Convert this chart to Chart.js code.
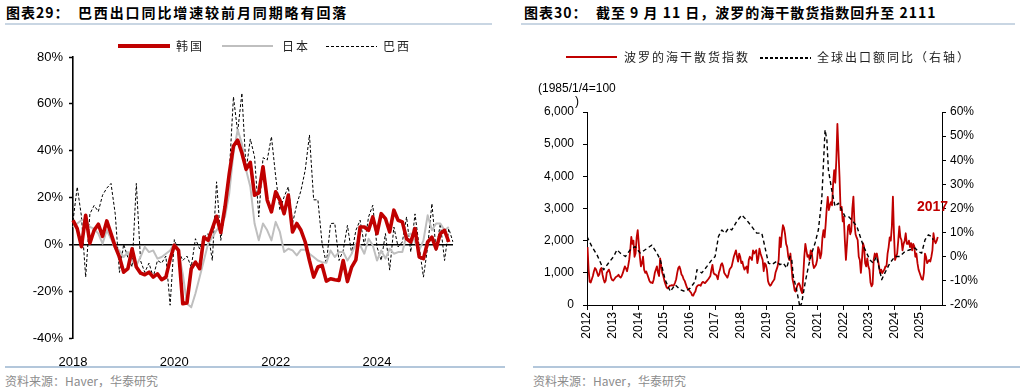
<!DOCTYPE html>
<html><head><meta charset="utf-8">
<script src="https://cdn.jsdelivr.net/npm/chart.js@4.4.1/dist/chart.umd.min.js"></script>
<style>
html,body{margin:0;padding:0;background:#fff}
body{width:1022px;height:392px;position:relative;overflow:hidden;font-family:"Liberation Sans",Arial,sans-serif}
.a{position:absolute;white-space:nowrap}
.title{font-family:"Noto Sans CJK SC","Liberation Sans",sans-serif;font-weight:700;font-size:14px;letter-spacing:1px;color:#000;top:2px;line-height:20px}
.rule{height:2px;background:#c9d6e3}
.frule{height:2px;background:#b3c7db}
.src{font-family:"Noto Sans CJK SC",sans-serif;font-size:12px;color:#8c8c8c;top:373px;line-height:16px}
.lg{font-family:"Noto Sans CJK SC",sans-serif;font-size:12px;color:#222;letter-spacing:2px;line-height:16px}
.dash{height:1px;background:repeating-linear-gradient(to right,#000 0 3px,transparent 3px 5px)}
canvas{position:absolute;top:0}
</style>
</head><body>
<div class="a title" style="left:6px">图表29：&nbsp;&nbsp;<span style="letter-spacing:1.9px">巴西出口同比增速较前月同期略有回落</span></div>
<div class="a rule" style="left:5px;top:23px;width:487px"></div>
<div class="a title" style="left:524px">图表30：&nbsp;&nbsp;截至 9 月 11 日，波罗的海干散货指数回升至 2111</div>
<div class="a rule" style="left:521px;top:23px;width:494px"></div>

<canvas id="c1" width="511" height="370" style="left:0"></canvas>
<canvas id="c2" width="511" height="370" style="left:511px"></canvas>

<!-- left legend -->
<div class="a" style="left:118px;top:44px;width:52px;height:4px;background:#c00000"></div>
<div class="a lg" style="left:176px;top:38px">韩国</div>
<div class="a" style="left:222px;top:45px;width:51px;height:2px;background:#bfbfbf"></div>
<div class="a lg" style="left:282px;top:38px">日本</div>
<div class="a dash" style="left:326px;top:46px;width:51px"></div>
<div class="a lg" style="left:383px;top:38px">巴西</div>

<!-- right legend -->
<div class="a" style="left:566px;top:56px;width:51px;height:2px;background:#c00000"></div>
<div class="a lg" style="left:624px;top:49px">波罗的海干散货指数</div>
<div class="a dash" style="left:760px;top:57px;width:51px;height:1.5px"></div>
<div class="a lg" style="left:817px;top:49px">全球出口额同比（右轴）</div>

<div class="a" style="left:538px;top:81px;font-size:12px;color:#000">(1985/1/4=100</div>
<div class="a" style="left:575px;top:94px;font-size:12px;color:#000">)</div>
<div class="a" style="left:917px;top:198px;font-size:14px;font-weight:700;color:#c00000">2017</div>

<div class="a frule" style="left:5px;top:366px;width:500px"></div>
<div class="a frule" style="left:533px;top:366px;width:487px"></div>
<div class="a src" style="left:5px">资料来源：Haver，华泰研究</div>
<div class="a src" style="left:533px">资料来源：Haver，华泰研究</div>

<script>
// ---------- Left chart data (monthly, 2018-01 .. 2025-07), % YoY ----------
const leftStartYear = 2018;
const leftMonthCount = 91;
const leftYearTicks = ['2018', '2020', '2022', '2024'];
const korea = [10.3, 6.7, -1, 12.4, 0.5, 6, 8.6, 3.4, 10, 4.6,
  -1, -5.4, -11.9, -10.4, -1.9, -9.7, -12.3, -13, -11.9, -14,
  -12.6, -15.1, -14, -6.4, -0.4, -2.6, -25.4, -25, -10.4, -7.6,
  -10.4, 3.1, 1.7, 6.7, 12, 5, 16, 30, 42, 44.5,
  39, 32, 35, 21, 22, 33.1, 18.9, 13.9, 22.4, 18.9,
  13.1, 21, 5.3, 8.9, 6, 1, -6.9, -14, -9.7, -9,
  -15.7, -14.7, -15.1, -15.4, -6.9, -15.9, -9.7, -6.6, 7.4, 7.4,
  6, 11.7, 4.6, 13.1, 11, 5.3, 14.6, 10.3, 9.6, 2.4,
  1, 6.7, -5.4, -6.1, 1, 3.1, -1.9, 4.6, 6, 1];
const japan = [7.4, 8.9, 10.3, 10.6, 7.4, 6.7, 4.6, 0.3, 6, 2.4,
  -1.9, -2.6, -5.4, -3.3, -6.9, -9, -5.4, -1.1, -3.3, -2.6,
  -6.1, -5.4, -4, -2.6, 0.3, -3.3, -12.6, -25.4, -26.9, -21,
  -14, -6.9, 0.3, 3, 6, 8, 11.7, 21.7, 38.9, 48.9,
  43, 31.7, 24.6, 8.9, 1.7, 8.9, 6, 1.7, 9.6, 5.3,
  -3.3, -1.9, -2.6, -4.7, -2.3, -2.3, -4, -5.4, -6.9, -7.6,
  -7.9, -2.6, -5.4, -3.3, -3.3, -6.9, -4, 0.3, -0.4, -4,
  2.4, -0.4, -6.9, -2.6, -6.1, -1.9, -4, -3.3, -3.3, 3.9,
  4.6, 1, -2.6, 1.7, 12.4, 6, 8.9, 8.9, 6, 7.4];
const brazil = [10, 24.5, 12, -14, 13, 16.6, 14, 21, 24, 26,
  13, -12, 0, -5.7, -9.7, 26, -7, -12, -8, -14,
  -6.9, -8, -5, -26, 2, -3, -6.9, -5, -9.7, 2.4,
  -2, 3, 4.6, -6.9, 26.7, 1.7, 14.6, 30, 63, 48,
  64.6, 31.7, 45, 37.4, 11.7, 37, 36, 46, 29, 14.6,
  20.3, 24.6, 9, 17, 23, 31.7, 46.7, 19, 19, 0.3,
  -8.3, 8.9, 9, -6.9, -2.6, 8.1, -4, 6, 10.3, -0.4,
  11.7, 16.7, -1.1, -6.9, 4.6, -11, 7.4, -1.1, 1, 11.7,
  -3.3, 13, -1.1, -14, -1.1, 17.4, -2.6, 8.9, -6.9, 6.7, 1];

// ---------- Right chart data ----------
// Baltic Dry Index, two readings per month from Jan 2012
const bdiStartYear = 2012;
const bdiPerYear = 24;
const bdi = [
  1800,1100, 720,700, 800,900, 1050,1150, 1100,1000, 900,950, 1100,1150, 950,800, 700,750, 1000,1050, 1100,1000, 850,780,
  760,800, 850,880, 900,940, 880,850, 900,990, 1100,1200, 1140,1050, 1200,1400, 1700,2120, 1900,2000, 1500,1600, 2100,2330,
  1900,1500, 1200,1300, 1500,1100, 1000,1040, 950,850, 750,700, 700,680, 800,1000, 1100,1200, 1000,900, 1450,1200, 1000,900,
  750,650, 550,520, 560,600, 600,620, 600,620, 700,800, 1000,1150, 1200,1100, 950,900, 800,750, 650,550, 500,470,
  420,380, 300,290, 370,420, 550,600, 620,620, 600,680, 720,700, 680,720, 760,800, 850,900, 1100,1250, 1000,950,
  950,900, 800,1000, 1100,1250, 1300,1200, 1000,950, 900,850, 950,1100, 1150,1200, 1350,1500, 1600,1700, 1500,1350, 1600,1500,
  1300,1350, 1200,1100, 1150,1200, 1000,1400, 1500,1450, 1400,1700, 1600,1650, 1700,1300, 1450,1750, 1600,1500, 1400,1050, 1300,1250,
  1100,750, 650,600, 630,700, 750,800, 1000,1100, 1200,1400, 2100,1800, 2200,2480, 2400,2200, 1900,1800, 1500,1400, 1600,1200,
  800,650, 450,420, 550,650, 680,600, 450,370, 900,1500, 1900,1700, 1500,1550, 1400,1700, 1650,1300, 1150,1200, 1250,1400,
  1800,1700, 1450,1600, 2100,2330, 2100,2500, 3000,3360, 2950,3100, 3200,3100, 3770,4190, 3800,4500, 5630,4800, 3980,2950, 3050,2600,
  2740,2000, 1400,1900, 2440,2500, 2200,2300, 3000,3370, 2540,2200, 2100,2020, 1500,1400, 1000,1400, 1920,1800, 1300,1200, 1450,1200,
  1100,700, 580,650, 1400,1600, 1500,1600, 1400,1200, 1000,1100, 990,1050, 1100,1200, 1200,1600, 1800,2100, 2000,2440, 3370,2200,
  1400,1500, 1600,2000, 2440,2100, 2020,1700, 1900,2000, 2230,1900, 1900,2000, 1800,1920, 1700,1900, 1820,1500, 1600,1300, 1100,1000,
  900,800, 785,1000, 1600,1500, 1300,1350, 1400,1350, 1500,1700, 2230,2000, 1920,2000, 2111];
// Global exports YoY (%), dates as decimal years
const expTime = [2012.0, 2012.19, 2012.39, 2012.65, 2012.84,
  2013.04, 2013.17, 2013.3, 2013.5, 2013.69, 2013.88,
  2014.08, 2014.27, 2014.53, 2014.73, 2014.86,
  2015.05, 2015.25, 2015.44, 2015.64, 2015.83,
  2016.03, 2016.22, 2016.29, 2016.48, 2016.68, 2016.87,
  2017.0, 2017.13, 2017.26, 2017.39, 2017.52, 2017.65, 2017.84,
  2018.04, 2018.23, 2018.43, 2018.62, 2018.82, 2018.91,
  2019.08, 2019.21, 2019.4, 2019.53, 2019.66, 2019.79, 2019.92, 2019.99,
  2020.05, 2020.18, 2020.31, 2020.38, 2020.51, 2020.64, 2020.77, 2020.9,
  2021.03, 2021.16, 2021.29, 2021.36, 2021.42, 2021.55, 2021.68, 2021.81, 2021.94,
  2022.07, 2022.2, 2022.33, 2022.53, 2022.66, 2022.79,
  2023.04, 2023.17, 2023.3, 2023.5, 2023.62, 2023.82,
  2024.02, 2024.21, 2024.41, 2024.6, 2024.8, 2024.93,
  2025.06, 2025.19, 2025.32, 2025.45, 2025.51];
const expYoY = [8.4, 4.2, 0.8, -5.4, -2.6,
  0.1, 2.9, 1.5, 0.1, 2.9, 4.2,
  1.5, 2.9, 4.8, 1.5, -1.3,
  -9.5, -14.4, -11.6, -13.7, -14.4,
  -13, -10.2, -5.4, -6.7, -4, -1.3,
  0.1, 8.4, 11.1, 9.8, 11.8, 11.1, 14.6,
  17.3, 15.2, 12.5, 9.8, 9.8, 5.6,
  -2.6, -3.3, -1.9, -3.3, -2.6, -4.7, 0.1, -1.2,
  -8.1, -13.7, -21, -19, -10.9, -4, 1.5, 5.7,
  11.2, 23.6, 52.6, 48.4, 36, 27.7, 20.8, 22.2, 19.4,
  16.7, 16.7, 15.3, 12.6, 8.4, 4.3,
  -1.3, -2.6, 0.1, -9.5, -6.8, -2.6,
  0.1, 0.1, 2.2, 2.9, 3.6, 2.2,
  1.5, 7, 9.1, 8.4, 7];
const leftAxisTicks = [0, 1000, 2000, 3000, 4000, 5000, 6000];
const rightAxisTicks = [-20, -10, 0, 10, 20, 30, 40, 50, 60];

// ---------- build ----------
const leftLabels = [];
for (let i = 0; i < leftMonthCount; i++) {
  const y = leftStartYear + Math.floor(i / 12), m = i % 12 + 1;
  leftLabels.push(y + '-' + String(m).padStart(2, '0'));
}
const FONT = {family: '"Liberation Sans", Arial, sans-serif', size: 13};

new Chart(document.getElementById('c1'), {
  type: 'line',
  data: {
    labels: leftLabels,
    datasets: [
      {label: '韩国', data: korea, borderColor: '#c00000', borderWidth: 3.6, order: 0},
      {label: '日本', data: japan, borderColor: '#bfbfbf', borderWidth: 2, order: 1},
      {label: '巴西', data: brazil, borderColor: '#000', borderWidth: 1, borderDash: [3, 2], order: 2}
    ]
  },
  options: {
    responsive: false, animation: false, devicePixelRatio: 1,
    layout: {padding: {top: 57, right: 58, left: 0, bottom: 0}},
    plugins: {legend: {display: false}, tooltip: {enabled: false}},
    elements: {point: {radius: 0}, line: {tension: 0, borderJoinStyle: 'round'}},
    scales: {
      x: {
        type: 'category', offset: false,
        grid: {display: false}, border: {display: false},
        ticks: {
          autoSkip: false, maxRotation: 0, minRotation: 0, padding: 9, color: '#000', font: FONT,
          callback: (v, i) => {
            const l = leftLabels[i];
            const yr = l.slice(0, 4);
            return (l.endsWith('-01') && leftYearTicks.includes(yr)) ? yr : '';
          }
        },
        afterFit: s => { s.height = 32; }
      },
      y: {
        min: -40, max: 80,
        ticks: {stepSize: 20, padding: 6, color: '#000', font: FONT, callback: v => v + '%'},
        grid: {
          drawOnChartArea: true, drawTicks: true, tickLength: 4, tickColor: '#000', tickWidth: 1.5,
          color: c => (c.tick && c.tick.value === 0) ? '#000' : 'rgba(0,0,0,0)',
          lineWidth: c => (c.tick && c.tick.value === 0) ? 1.6 : 1
        },
        border: {color: '#000', width: 1.6},
        afterFit: s => { s.width = 73; }
      }
    }
  }
});

const bdiData = bdi.map((v, k) => ({x: bdiStartYear + k / bdiPerYear + 1 / (2 * bdiPerYear), y: v}));
const expData = expTime.map((t, k) => ({x: t, y: expYoY[k]}));
const F12 = {family: '"Liberation Sans", Arial, sans-serif', size: 12};

new Chart(document.getElementById('c2'), {
  type: 'line',
  data: {
    datasets: [
      {label: '全球出口额同比（右轴）', data: expData, yAxisID: 'y2', borderColor: '#000', borderWidth: 1.4, borderDash: [4, 3], order: 0},
      {label: '波罗的海干散货指数', data: bdiData, yAxisID: 'y', borderColor: '#c00000', borderWidth: 1.8, order: 1}
    ]
  },
  options: {
    responsive: false, animation: false, devicePixelRatio: 1,
    layout: {padding: {top: 112, right: 0, left: 0, bottom: 0}},
    plugins: {legend: {display: false}, tooltip: {enabled: false}},
    elements: {point: {radius: 0}, line: {tension: 0, borderJoinStyle: 'round'}},
    scales: {
      x: {
        type: 'linear', min: 2012, max: 2025.853,
        grid: {display: true, drawOnChartArea: false, drawTicks: true, tickLength: 5, color: '#000'},
        border: {color: '#000'},
        ticks: {
          stepSize: 1, includeBounds: false, autoSkip: false, maxRotation: 90, minRotation: 90,
          padding: 2, color: '#000', font: F12,
          callback: v => Number.isInteger(v) ? String(v) : ''
        },
        afterFit: s => { s.height = 65; }
      },
      y: {
        position: 'left', min: 0, max: 6000,
        afterBuildTicks: s => { s.ticks = leftAxisTicks.map(v => ({value: v})); },
        ticks: {padding: 9, color: '#000', font: F12, callback: v => v.toLocaleString('en-US')},
        grid: {drawOnChartArea: false, drawTicks: true, tickLength: 4, color: '#000'},
        border: {color: '#000'},
        afterFit: s => { s.width = 76; }
      },
      y2: {
        position: 'right', min: -20, max: 60,
        afterBuildTicks: s => { s.ticks = rightAxisTicks.map(v => ({value: v})); },
        ticks: {padding: 4, color: '#000', font: F12, callback: v => v + '%'},
        grid: {drawOnChartArea: false, drawTicks: true, tickLength: 4, color: '#000'},
        border: {color: '#000'},
        afterFit: s => { s.width = 80; }
      }
    }
  }
});
</script>
</body></html>
